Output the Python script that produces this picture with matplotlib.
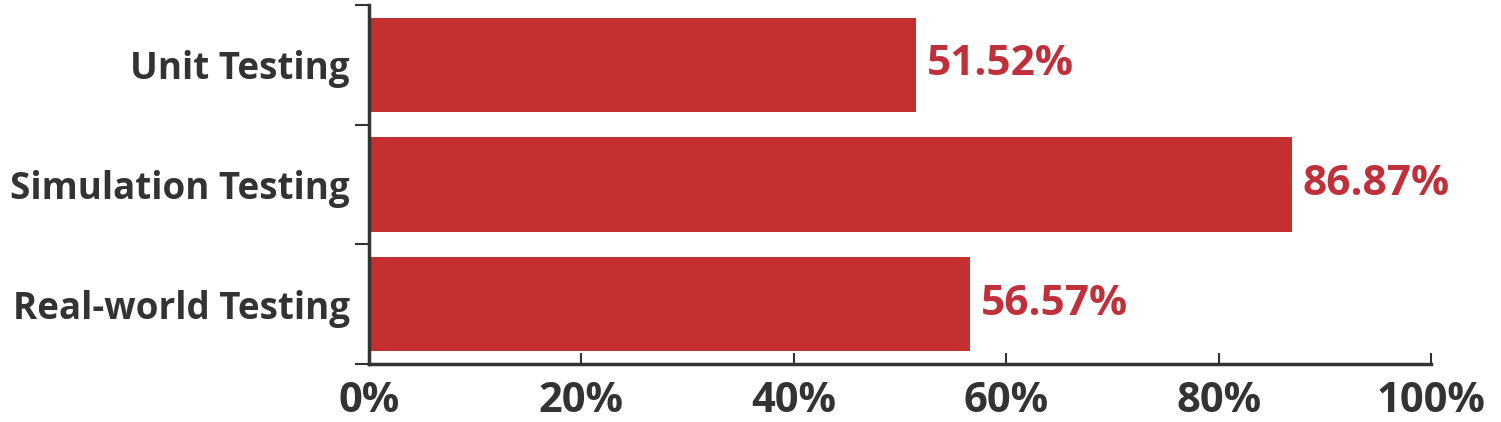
import matplotlib.pyplot as plt
from matplotlib.ticker import FixedLocator

categories = ['Unit Testing', 'Simulation Testing', 'Real-world Testing']
values = [51.52, 86.87, 56.57]
xticks = [0, 20, 40, 60, 80, 100]

bar_color = '#C3302F'
label_color = '#C0303A'
text_color = '#333333'

plt.rcParams['font.family'] = ['Open Sans', 'DejaVu Sans']
plt.rcParams['font.weight'] = 'bold'

fig = plt.figure(figsize=(15.01, 4.22), dpi=100)
ax = fig.add_axes([0.2458, 0.1374, 0.7076, 0.8506])

pos = list(range(len(categories)))
ax.barh(pos, values, height=0.79, color=bar_color)
for p, v in zip(pos, values):
    ax.text(v + 1.0, p, f'{v:.2f}%', va='center', ha='left',
            color=label_color, fontsize=30.5, fontweight='bold')

ax.set_xlim(0, 100)
ax.set_ylim(2.5, -0.5)
ax.set_xticks(xticks)
ax.set_xticklabels([f'{t}%' for t in xticks], fontsize=30, fontweight='bold', color=text_color)
ax.set_yticks(pos)
ax.set_yticklabels(categories, fontsize=26.5, fontweight='bold', color=text_color)
ax.yaxis.set_minor_locator(FixedLocator([-0.5, 0.5, 1.5, 2.5]))

ax.tick_params(axis='y', which='major', length=0, pad=14)
ax.tick_params(axis='y', which='minor', length=10, width=1.5, direction='out', color=text_color)
ax.tick_params(axis='x', which='major', length=8, width=1.5, direction='in', color=text_color, pad=12)

for s in ['top', 'right']:
    ax.spines[s].set_visible(False)
for s in ['left', 'bottom']:
    ax.spines[s].set_linewidth(2.5)
    ax.spines[s].set_color(text_color)

fig.savefig('out.png', dpi=100)
